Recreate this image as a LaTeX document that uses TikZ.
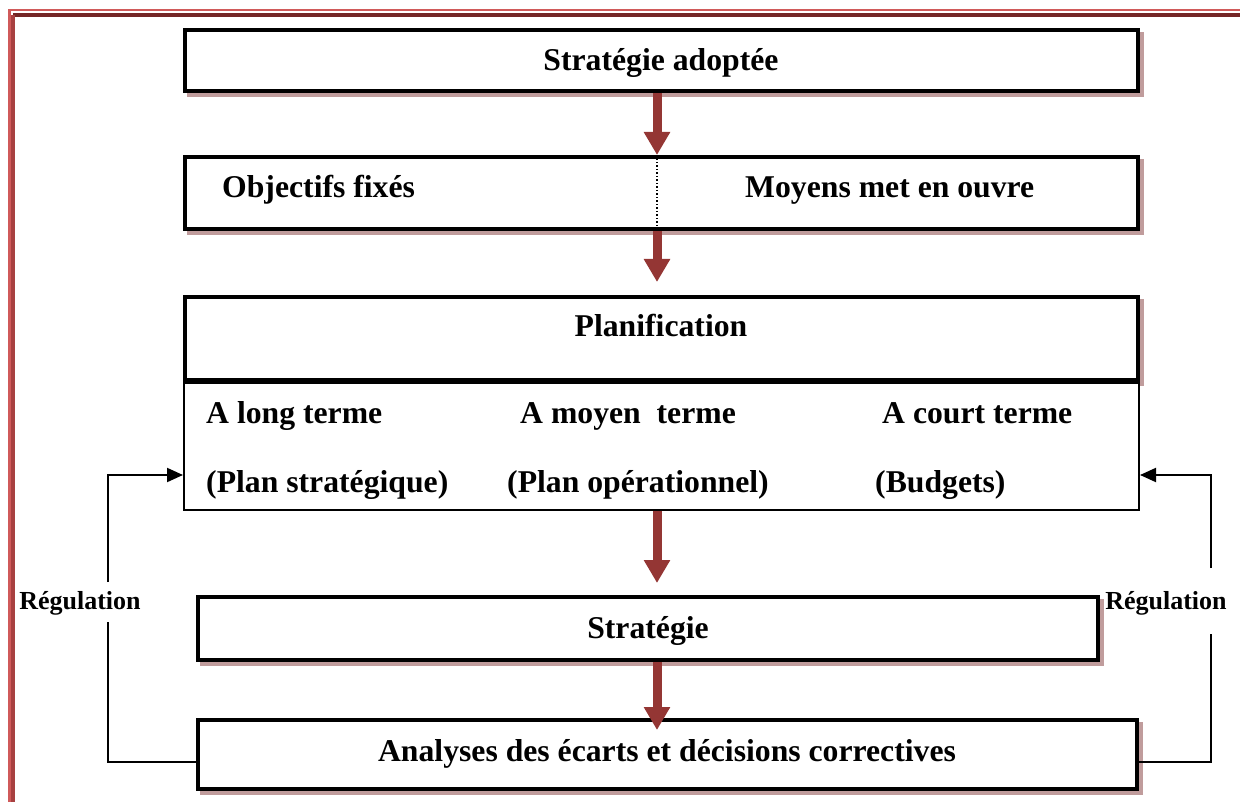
\documentclass[tikz,border=0pt]{standalone}
\usepackage{fontspec}
\setmainfont{Liberation Serif}
\usetikzlibrary{arrows.meta}
\definecolor{arrowred}{HTML}{943634}
\definecolor{shadowpink}{HTML}{C09C9C}
\definecolor{frameouter}{HTML}{D05A5A}
\definecolor{frameinner}{HTML}{742626}
\definecolor{frameleft}{HTML}{A84040}
\tikzset{
  box/.style={draw=black, line width=4pt, fill=white, inner sep=0pt},
  thinbox/.style={draw=black, line width=2pt, fill=white, inner sep=0pt},
  shade/.style={draw=shadowpink, line width=3.5pt, inner sep=0pt},
  lbl/.style={inner sep=0pt, font=\fontsize{31.7}{38}\selectfont\bfseries},
  reglbl/.style={inner sep=0pt, font=\fontsize{26}{31}\selectfont\bfseries},
  flow/.style={arrowred, line width=9pt, -{Triangle[width=25pt,length=23pt]}},
  reg/.style={line width=2pt},
  regarrow/.style={line width=2pt, -{Triangle[width=14pt,length=16pt]}},
}
\begin{document}
\begin{tikzpicture}[x=1pt,y=-1pt]
\useasboundingbox (0,0) rectangle (1240,802);

% page frame (top and left edges)
\draw[frameouter, line width=2.5pt] (1240,10) -- (9.5,10) -- (9.5,802);
\draw[frameinner, line width=3.5pt] (1240,15) -- (13,15);
\draw[frameleft, line width=3.5pt] (13,15) -- (13,802);

% drop shadows
\node[shade, minimum width=953pt, minimum height=61pt] at (665.5,64.5) {};
\node[shade, minimum width=953pt, minimum height=72pt] at (665.5,197) {};
\node[shade, minimum width=953pt, minimum height=83pt] at (665.5,342.5) {};
\node[shade, minimum width=900pt, minimum height=63pt] at (652,632.5) {};
\node[shade, minimum width=939pt, minimum height=69pt] at (671.5,758.5) {};

% boxes
\node[box, minimum width=953pt, minimum height=61pt] (b1) at (661.5,60.5) {};
\node[box, minimum width=953pt, minimum height=72pt] (b2) at (661.5,193) {};
\node[thinbox, minimum width=955pt, minimum height=127pt] (b3low) at (661.5,446) {};
\node[box, minimum width=953pt, minimum height=83pt] (b3) at (661.5,338.5) {};
\node[box, minimum width=900pt, minimum height=63pt] (b4) at (648,628.5) {};
\node[box, minimum width=939pt, minimum height=69pt] (b5) at (667.5,754.5) {};

% texts
\node[lbl, anchor=base] (t1) at (661,71) {Stratégie adoptée};
\node[lbl, anchor=base west] (t2a) at (222,198) {Objectifs fixés};
\node[lbl, anchor=base west] (t2b) at (745,198) {Moyens met en ouvre};
\node[lbl, anchor=base] (t3) at (661,337) {Planification};
\node[lbl, anchor=base west] (t3a) at (206,423) {A long terme};
\node[lbl, anchor=base west] (t3b) at (520,423) {A moyen\ \ terme};
\node[lbl, anchor=base west] (t3c) at (882,423) {A court terme};
\node[lbl, anchor=base west] (t3d) at (206,492) {(Plan stratégique)};
\node[lbl, anchor=base west] (t3e) at (507,492) {(Plan opérationnel)};
\node[lbl, anchor=base west] (t3f) at (875,492) {(Budgets)};
\node[lbl, anchor=base] (t4) at (648,638) {Stratégie};
\node[lbl, anchor=base] (t5) at (667,761) {Analyses des écarts et décisions correctives};
\node[reglbl, anchor=base] (rgL) at (80,609) {Régulation};
\node[reglbl, anchor=base] (rgR) at (1166,609) {Régulation};

% divider between objectives and means
\coordinate (ax) at (657,0);
\draw[dotted, line width=1.5pt] (ax |- b2.north) -- (ax |- b2.south);

% main flow arrows
\draw[flow] (ax |- b1.south) -- (ax |- b2.north);
\draw[flow, shorten >=13pt] (ax |- b2.south) -- (ax |- b3.north);
\draw[flow, shorten >=12pt] (ax |- b3low.south) -- (ax |- b4.north);
\draw[flow, shorten >=-12pt] (ax |- b4.south) -- (ax |- b5.north);

% regulation loops
\coordinate (lx) at (108,0);
\coordinate (rx) at (1211,0);
\coordinate (loopy) at (0,762);
\coordinate (backy) at (0,475);
\draw[reg] (b5.west |- loopy) -- (lx |- loopy) -- (108,622);
\draw[regarrow] (108,582) -- (lx |- backy) -- (b3low.west |- backy);
\draw[reg] (b5.east |- loopy) -- (rx |- loopy) -- (1211,634);
\draw[regarrow] (1211,568) -- (rx |- backy) -- (b3low.east |- backy);
\end{tikzpicture}
\end{document}
